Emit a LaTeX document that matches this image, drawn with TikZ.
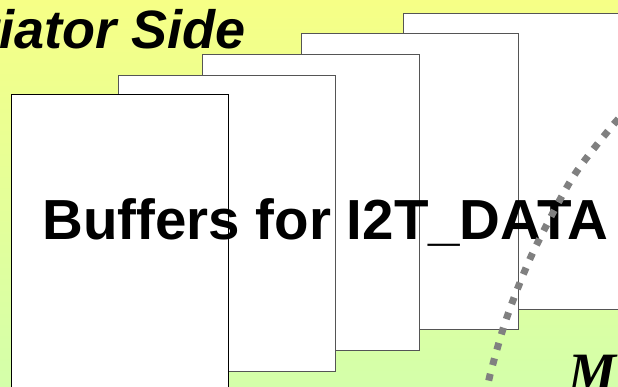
\documentclass[tikz,border=0pt]{standalone}
\usepackage{fontspec}
\usetikzlibrary{positioning}
\newfontfamily\arialfont{Liberation Sans}
\newfontfamily\timesfont{Liberation Serif}
\definecolor{initbg}{RGB}{246,255,134}
\definecolor{targbg}{RGB}{212,255,170}
\definecolor{bufedge}{RGB}{85,85,85}
\definecolor{sidegray}{RGB}{128,128,128}

\begin{document}
\begin{tikzpicture}[
    x=1pt, y=-1pt,
    buf/.style={draw=bufedge, fill=white, line width=1pt, minimum width=217pt, minimum height=296pt, anchor=north west, inner sep=0pt},
    title/.style={font=\arialfont\bfseries\fontsize{56.5}{60}\selectfont, inner sep=0pt, anchor=base},
    side/.style={font=\arialfont\bfseries\itshape\fontsize{54}{60}\selectfont, inner sep=0pt},
    border/.style={draw=sidegray, line width=7pt, dash pattern=on 7pt off 9pt}
  ]
  \useasboundingbox (0,0) rectangle (618,387);
  \clip (0,0) rectangle (618,387);
  \shade[top color=initbg, bottom color=targbg] (0,0) rectangle (618,387);

  \node[side, anchor=base east] (init) at (246,49) {Initiator Side};
  \node[font=\timesfont\bfseries\itshape\fontsize{54}{60}\selectfont, inner sep=0pt, anchor=base west] (targ) at (568,390) {M};

  % stacked buffers, back to front
  \node[buf] (buf5) at (403,13) {};
  \node[buf] (buf4) at (301,33) {};
  \node[buf] (buf3) at (202,54) {};
  \node[buf] (buf2) at (118,75) {};
  \node[buf, draw=black] (buf1) at (11,94) {};

  \node[title] (label) at (325.5,240) {Buffers for I2T\_DATA};

  \draw[border] plot[smooth] coordinates {(630,108) (613,125) (573,177) (536,246) (517,290) (503,329) (490,375) (485,400)};
\end{tikzpicture}
\end{document}
